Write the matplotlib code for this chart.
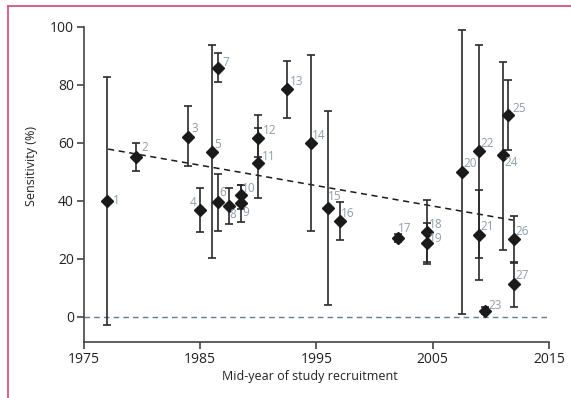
import matplotlib.pyplot as plt
from matplotlib.lines import Line2D

# study data: mid-year of recruitment, sensitivity (%) and 95% CI
study_ids = list(range(1, 28))
years = [1977.0, 1979.5, 1984.0, 1985.0, 1986.0, 1986.5, 1986.5, 1987.5, 1988.5, 1988.5,
         1990.0, 1990.0, 1992.5, 1994.5, 1996.0, 1997.0, 2002.0, 2004.5, 2004.5, 2007.5,
         2009.0, 2009.0, 2009.5, 2011.0, 2011.5, 2012.0, 2012.0]
sens = [40.0, 55.2, 62.1, 36.8, 56.9, 39.4, 85.9, 38.3, 39.2, 42.0,
        53.1, 61.7, 78.4, 60.0, 37.6, 33.1, 27.0, 29.2, 25.3, 50.0,
        28.2, 57.1, 2.0, 55.8, 69.6, 26.7, 11.3]
ci_low = [-2.9, 50.2, 52.0, 29.3, 20.3, 29.6, 81.0, 31.9, 32.8, 37.0,
          40.8, 55.0, 68.5, 29.6, 4.0, 26.4, 25.7, 19.0, 18.2, 0.9,
          20.3, 12.7, 0.8, 23.0, 57.5, 19.0, 3.4]
ci_high = [82.8, 59.8, 72.7, 44.3, 93.7, 49.2, 90.8, 44.3, 45.4, 45.4,
           65.2, 69.4, 88.3, 90.3, 70.9, 39.4, 28.5, 40.2, 32.2, 98.9,
           43.6, 93.7, 3.4, 87.9, 81.6, 34.8, 18.6]

# label offsets in pixels (dx, dy), dy positive = up
label_dx = [9, 9, 6, -7, 6, 5, 8, 4, 5, 8, 11, 11, 9, 8, 7, 8, 7, 9, 9, 8, 8, 8, 10, 9, 11, 8, 8]
label_dy = [0, 9, 8, 8, 7, 10, 5, -9, -9, 6, 6, 7, 8, 7, 11, 7, 10, 8, 5, 8, 8, 8, 5, -8, 6, 8, 8]

# meta-regression trend line end points
trend_years = [1977.1, 2011.9]
trend_vals = [57.8, 33.3]

plt.rcParams['font.family'] = ['Open Sans', 'DejaVu Sans']

fig = plt.figure(figsize=(5.71, 3.98), dpi=100)
ax = fig.add_axes([0.1466, 0.140, 0.815, 0.793])

bar_color = '#1a1a1a'
lab_color = '#8d9eab'

for i in range(len(years)):
    ax.errorbar(years[i], sens[i],
                yerr=[[sens[i] - ci_low[i]], [ci_high[i] - sens[i]]],
                fmt='D', color=bar_color, ecolor='#2a2a2a', elinewidth=1.2,
                capsize=3, capthick=1.2, markersize=5.8, zorder=3)
    ax.annotate(str(study_ids[i]), (years[i], sens[i]),
                xytext=(label_dx[i], label_dy[i]), textcoords='offset pixels',
                ha='center', va='center', fontsize=8.5, color=lab_color, zorder=4)

ax.plot(trend_years, trend_vals, linestyle=(0, (4, 3)), color='#1a1a1a', lw=1.1, zorder=2)
ax.axhline(0, linestyle=(0, (4, 3)), color='#5f7f8f', lw=1.0, zorder=1)

ax.set_xlim(1975, 2015)
ax.set_ylim(-8.8, 100)
ax.set_xticks([1975, 1985, 1995, 2005, 2015])
ax.set_yticks([0, 20, 40, 60, 80, 100])
ax.spines['top'].set_visible(False)
ax.spines['right'].set_visible(False)
ax.spines['left'].set_bounds(-8.8, 100)
for s in ['left', 'bottom']:
    ax.spines[s].set_color('#444444')
    ax.spines[s].set_linewidth(1.2)
ax.tick_params(axis='both', direction='out', length=5, width=1.2, color='#444444',
               labelsize=10, labelcolor='#222222', pad=2)

ax.set_ylabel('Sensitivity (%)', fontsize=9, color='#222222')
ax.yaxis.set_label_coords(-0.098, 0.56)
ax.set_xlabel('Mid-year of study recruitment', fontsize=9, color='#222222')
ax.xaxis.set_label_coords(0.486, -0.088)

# pink frame lines (top and left)
pink = '#d8547c'
fig.add_artist(Line2D([8 / 571, 1.0], [1 - 6 / 398, 1 - 6 / 398], color=pink, lw=1.3))
fig.add_artist(Line2D([8 / 571, 8 / 571], [0.0, 1 - 6 / 398], color=pink, lw=1.3))

fig.savefig('out.png', dpi=100, facecolor='white')
